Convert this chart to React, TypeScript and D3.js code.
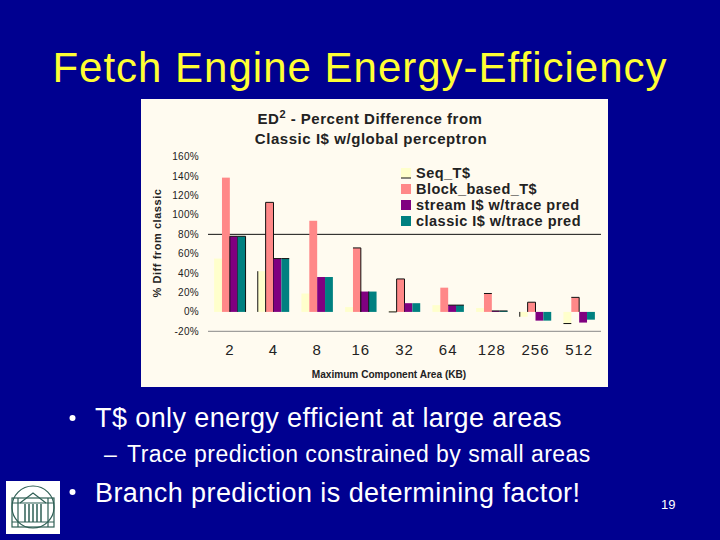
import * as d3 from 'd3'

const categories = ['2', '4', '8', '16', '32', '64', '128', '256', '512']
const seqT = [55, 42, 19, 5, 1, 7, 4, -5, -12]
const blockT = [138.5, 113, 94, 66, 34, 25, 19, 10, 15]
const streamI = [78, 55, 36, 21, 9, 7, 1, -9, -11]
const classicI = [78, 55, 36, 21, 9, 7, 1, -9, -8]
const seriesNames = ['Seq_T$', 'Block_based_T$', 'stream I$ w/trace pred', 'classic I$ w/trace pred']
const seriesValues = [seqT, blockT, streamI, classicI]
const COLORS = ['#ffffcc', '#ff8888', '#800080', '#008080']
const yTicks = [-20, 0, 20, 40, 60, 80, 100, 120, 140, 160]

// the black bar outlines only survive in places in the original: t/l/r/b per bar
const seqEdges = ['', 'l', '', '', 'b', '', '', 'l', 'b']
const blockEdges = ['', 'tlr', '', 'tr', 'tlr', '', 't', 'tlr', 'tr']
const streamEdges = ['tlr', 't', '', 'l', '', 't', 't', '', '']
const classicEdges = ['tr', 't', '', 'l', '', 't', 't', '', '']
const seriesEdges = [seqEdges, blockEdges, streamEdges, classicEdges]

const NAVY = '#000090'
const INK = '#222'
const SANS = '"Liberation Sans", Arial, sans-serif'

const y = d3.scaleLinear([-20, 160], [331.3, 156.8])
const x0 = d3.scaleBand(categories, [208, 601]).paddingInner(0.28).paddingOuter(0.14)
const x1 = d3.scaleBand(d3.range(4).map(String), [0, x0.bandwidth()])

function edgePath(edges: string, x: number, w: number, top: number, bottom: number) {
  let d = ''
  if (edges.includes('t')) d += `M${x} ${top}H${x + w}`
  if (edges.includes('b')) d += `M${x} ${bottom}H${x + w}`
  if (edges.includes('l')) d += `M${x} ${top}V${bottom}`
  if (edges.includes('r')) d += `M${x + w} ${top}V${bottom}`
  return d
}

function Logo() {
  const c = '#2f5f55'
  return (
    <g fill="none" stroke={c} strokeWidth={1.2}>
      <rect x={6} y={481} width={54} height={53} fill="#fff" stroke="none" />
      <circle cx={33} cy={507} r={21} />
      <rect x={12} y={498} width={42} height={29} />
      <path d="M12 503H54M12 522H54M18 498V527M48 498V527" />
      <path d="M20 503L33 493L46 503" />
      <path d="M25 504V522M29 504V522M33 504V522M37 504V522M41 504V522" strokeWidth={1.5} />
    </g>
  )
}

export default function App() {
  return (
    <svg width={720} height={540} viewBox="0 0 720 540" fontFamily={SANS}
      style={{ position: 'fixed', left: 0, top: 0, display: 'block', background: NAVY }}>
      <rect width={720} height={540} fill={NAVY} />
      <text x={360} y={82} textAnchor="middle" fontSize={42} letterSpacing={1} fill="#ffff33">Fetch Engine Energy-Efficiency</text>

      <rect x={141} y={99} width={467} height={288} fill="#fffbf0" />
      <text x={370} y={124} textAnchor="middle" fontSize={15} letterSpacing={0.5} fontWeight="bold" fill={INK}>
        ED<tspan dy={-6} fontSize={11}>2</tspan><tspan dy={6}> - Percent Difference from</tspan>
      </text>
      <text x={371} y={144} textAnchor="middle" fontSize={15} letterSpacing={0.55} fontWeight="bold" fill={INK}>Classic I$ w/global perceptron</text>

      <text transform="translate(161,243) rotate(-90)" textAnchor="middle" fontSize={11} letterSpacing={0.55} fontWeight="bold" fill={INK}>% Diff from classic</text>
      {yTicks.map((t) => (
        <text key={t} x={199} y={y(t) + 3.5} textAnchor="end" fontSize={10} letterSpacing={0.3} fill={INK}>{t}%</text>
      ))}

      <line x1={208} x2={601} y1={y(80)} y2={y(80)} stroke="#111" />
      <line x1={208} x2={601} y1={y(-20)} y2={y(-20)} stroke="#888" />

      {categories.map((cat, i) => (
        <g key={cat} transform={`translate(${x0(cat)},0)`}>
          {seriesValues.map((vals, s) => {
            const v = vals[i]
            const top = y(Math.max(v, 0))
            const bottom = y(Math.min(v, 0))
            const bx = x1(String(s))!
            const w = x1.bandwidth()
            return (
              <g key={s}>
                <rect x={bx} y={top} width={w} height={bottom - top} fill={COLORS[s]} />
                <path d={edgePath(seriesEdges[s][i], bx, w, top, bottom)} fill="none" stroke="#111" strokeWidth={1} />
              </g>
            )
          })}
        </g>
      ))}

      {categories.map((cat) => (
        <text key={cat} x={x0(cat)! + x0.bandwidth() / 2} y={355} textAnchor="middle" fontSize={15} letterSpacing={1} fill={INK}>{cat}</text>
      ))}
      <text x={389} y={378} textAnchor="middle" fontSize={10.1} fontWeight="bold" fill={INK}>Maximum Component Area (KB)</text>

      {seriesNames.map((name, i) => (
        <g key={name}>
          <rect x={401} y={168 + i * 16} width={10} height={10} fill={COLORS[i]} />
          {i === 0 && <line x1={401} x2={411} y1={178} y2={178} stroke="#111" />}
          <text x={416} y={178 + i * 16} fontSize={14.5} letterSpacing={0.48} fontWeight="bold" fill={INK}>{name}</text>
        </g>
      ))}

      <circle cx={72.5} cy={418} r={3} fill="#fff" />
      <text x={95} y={427} fontSize={27} letterSpacing={0.4} fill="#fff">T$ only energy efficient at large areas</text>
      <text x={104} y={462} fontSize={23} fill="#fff">–</text>
      <text x={127} y={462} fontSize={23} letterSpacing={0.46} fill="#fff">Trace prediction constrained by small areas</text>
      <circle cx={72.5} cy={492} r={3} fill="#fff" />
      <text x={95} y={501.5} fontSize={27} letterSpacing={0.43} fill="#fff">Branch prediction is determining factor!</text>
      <text x={661} y={509} fontSize={13} fill="#fff">19</text>
      <Logo />
    </svg>
  )
}
